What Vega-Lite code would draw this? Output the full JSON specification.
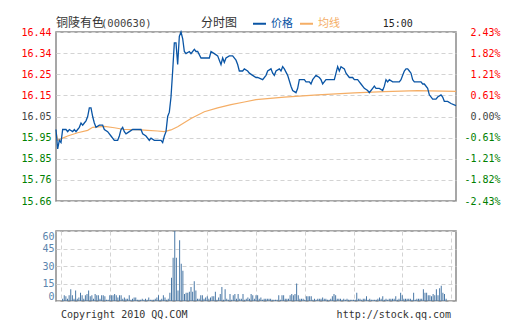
{
"$schema":"https://vega.github.io/schema/vega-lite/v6.json",
"background":"white",
"padding":{"left":20,"top":15,"right":0,"bottom":0},
"config":{
 "view":{"stroke":"#8a8a8a","strokeWidth":1.5},
 "axis":{"labelFont":"DejaVu Sans Mono","labelFontSize":10,"ticks":false,"domain":false,"gridColor":"#d3d3d3","gridDash":[4,3],"title":null,"labelOverlap":false,"labelFlush":false}
},
"datasets":{
"price":[{"t":0,"p":15.99},{"t":1,"p":15.9},{"t":2,"p":15.94},{"t":3,"p":15.93},{"t":4,"p":15.99},{"t":6,"p":15.99},{"t":7,"p":15.98},{"t":8,"p":15.99},{"t":10,"p":15.98},{"t":11,"p":15.99},{"t":12,"p":15.98},{"t":13,"p":15.99},{"t":14,"p":16.0},{"t":15,"p":16.02},{"t":16,"p":16.01},{"t":17,"p":16.02},{"t":18,"p":16.03},{"t":19,"p":16.05},{"t":20,"p":16.09},{"t":21,"p":16.09},{"t":22,"p":16.05},{"t":23,"p":16.02},{"t":24,"p":16.0},{"t":26,"p":16.01},{"t":28,"p":16.01},{"t":29,"p":15.99},{"t":31,"p":15.98},{"t":33,"p":15.96},{"t":35,"p":15.94},{"t":37,"p":15.94},{"t":38,"p":15.96},{"t":39,"p":15.99},{"t":40,"p":16.0},{"t":41,"p":15.98},{"t":42,"p":15.97},{"t":44,"p":15.98},{"t":46,"p":15.99},{"t":49,"p":15.99},{"t":51,"p":15.99},{"t":52,"p":15.97},{"t":54,"p":15.96},{"t":56,"p":15.94},{"t":57,"p":15.95},{"t":59,"p":15.94},{"t":61,"p":15.94},{"t":63,"p":15.94},{"t":64,"p":15.93},{"t":65,"p":15.96},{"t":66,"p":15.98},{"t":67,"p":16.05},{"t":68,"p":16.07},{"t":69,"p":16.14},{"t":70,"p":16.26},{"t":71,"p":16.39},{"t":72,"p":16.39},{"t":73,"p":16.29},{"t":74,"p":16.42},{"t":75,"p":16.44},{"t":76,"p":16.41},{"t":77,"p":16.35},{"t":78,"p":16.34},{"t":80,"p":16.35},{"t":81,"p":16.34},{"t":83,"p":16.36},{"t":84,"p":16.35},{"t":85,"p":16.35},{"t":87,"p":16.32},{"t":92,"p":16.32},{"t":93,"p":16.35},{"t":95,"p":16.34},{"t":97,"p":16.33},{"t":98,"p":16.31},{"t":99,"p":16.29},{"t":100,"p":16.32},{"t":101,"p":16.3},{"t":102,"p":16.32},{"t":104,"p":16.33},{"t":106,"p":16.33},{"t":108,"p":16.31},{"t":109,"p":16.29},{"t":110,"p":16.26},{"t":112,"p":16.26},{"t":113,"p":16.27},{"t":115,"p":16.26},{"t":116,"p":16.25},{"t":118,"p":16.24},{"t":120,"p":16.23},{"t":121,"p":16.23},{"t":124,"p":16.22},{"t":126,"p":16.24},{"t":127,"p":16.26},{"t":129,"p":16.27},{"t":130,"p":16.25},{"t":131,"p":16.24},{"t":132,"p":16.26},{"t":134,"p":16.27},{"t":135,"p":16.26},{"t":136,"p":16.28},{"t":137,"p":16.27},{"t":139,"p":16.24},{"t":141,"p":16.19},{"t":142,"p":16.17},{"t":144,"p":16.16},{"t":145,"p":16.18},{"t":146,"p":16.22},{"t":149,"p":16.22},{"t":150,"p":16.21},{"t":152,"p":16.21},{"t":153,"p":16.2},{"t":154,"p":16.22},{"t":156,"p":16.24},{"t":158,"p":16.23},{"t":159,"p":16.22},{"t":160,"p":16.2},{"t":162,"p":16.22},{"t":167,"p":16.22},{"t":168,"p":16.25},{"t":169,"p":16.28},{"t":170,"p":16.26},{"t":171,"p":16.28},{"t":173,"p":16.27},{"t":174,"p":16.25},{"t":176,"p":16.23},{"t":178,"p":16.23},{"t":179,"p":16.22},{"t":181,"p":16.22},{"t":182,"p":16.21},{"t":183,"p":16.2},{"t":185,"p":16.18},{"t":187,"p":16.17},{"t":188,"p":16.16},{"t":189,"p":16.17},{"t":190,"p":16.18},{"t":191,"p":16.19},{"t":192,"p":16.18},{"t":194,"p":16.18},{"t":196,"p":16.17},{"t":197,"p":16.19},{"t":198,"p":16.22},{"t":199,"p":16.21},{"t":200,"p":16.22},{"t":202,"p":16.21},{"t":206,"p":16.21},{"t":207,"p":16.22},{"t":208,"p":16.24},{"t":209,"p":16.26},{"t":210,"p":16.27},{"t":211,"p":16.27},{"t":212,"p":16.26},{"t":213,"p":16.25},{"t":214,"p":16.22},{"t":215,"p":16.21},{"t":217,"p":16.21},{"t":219,"p":16.21},{"t":220,"p":16.2},{"t":221,"p":16.2},{"t":223,"p":16.18},{"t":224,"p":16.15},{"t":226,"p":16.13},{"t":228,"p":16.13},{"t":229,"p":16.14},{"t":231,"p":16.15},{"t":232,"p":16.14},{"t":233,"p":16.12},{"t":235,"p":16.12},{"t":237,"p":16.11},{"t":240,"p":16.1}],
"avg":[{"t":0,"p":15.98},{"t":1,"p":15.94},{"t":4,"p":15.95},{"t":7,"p":15.96},{"t":13,"p":15.975},{"t":19,"p":15.986},{"t":22,"p":16.0},{"t":29,"p":16.004},{"t":35,"p":15.998},{"t":41,"p":15.99},{"t":49,"p":15.989},{"t":55,"p":15.986},{"t":61,"p":15.983},{"t":65,"p":15.98},{"t":69,"p":15.988},{"t":73,"p":16.003},{"t":81,"p":16.041},{"t":89,"p":16.072},{"t":97,"p":16.09},{"t":105,"p":16.105},{"t":113,"p":16.117},{"t":120,"p":16.128},{"t":137,"p":16.139},{"t":157,"p":16.15},{"t":179,"p":16.159},{"t":197,"p":16.165},{"t":217,"p":16.169},{"t":240,"p":16.166}],
"vol":[{"t":1,"v":2},{"t":2,"v":5},{"t":3,"v":4},{"t":4,"v":2},{"t":5,"v":5},{"t":6,"v":10},{"t":7,"v":5},{"t":8,"v":2},{"t":9,"v":9},{"t":10,"v":2},{"t":11,"v":3},{"t":12,"v":7},{"t":13,"v":5},{"t":14,"v":2},{"t":15,"v":5},{"t":16,"v":6},{"t":17,"v":9},{"t":18,"v":4},{"t":19,"v":5},{"t":20,"v":2},{"t":21,"v":6},{"t":22,"v":5},{"t":23,"v":5},{"t":24,"v":2},{"t":25,"v":5},{"t":26,"v":5},{"t":27,"v":4},{"t":28,"v":1},{"t":29,"v":1},{"t":30,"v":5},{"t":31,"v":5},{"t":32,"v":5},{"t":33,"v":6},{"t":34,"v":5},{"t":35,"v":3},{"t":36,"v":5},{"t":37,"v":5},{"t":38,"v":2},{"t":39,"v":3},{"t":40,"v":2},{"t":41,"v":2},{"t":42,"v":5},{"t":43,"v":1},{"t":44,"v":2},{"t":45,"v":3},{"t":46,"v":3},{"t":47,"v":1},{"t":48,"v":1},{"t":49,"v":1},{"t":50,"v":2},{"t":51,"v":1},{"t":52,"v":2},{"t":53,"v":1},{"t":54,"v":3},{"t":55,"v":1},{"t":56,"v":1},{"t":57,"v":1},{"t":58,"v":2},{"t":59,"v":3},{"t":60,"v":5},{"t":61,"v":1},{"t":62,"v":2},{"t":63,"v":5},{"t":64,"v":3},{"t":65,"v":1},{"t":66,"v":2},{"t":67,"v":7},{"t":68,"v":20},{"t":69,"v":37},{"t":70,"v":60},{"t":71,"v":37},{"t":72,"v":9},{"t":73,"v":52},{"t":74,"v":32},{"t":75,"v":26},{"t":76,"v":6},{"t":77,"v":7},{"t":78,"v":7},{"t":79,"v":8},{"t":80,"v":12},{"t":81,"v":8},{"t":82,"v":17},{"t":83,"v":9},{"t":84,"v":2},{"t":85,"v":2},{"t":86,"v":5},{"t":87,"v":5},{"t":88,"v":2},{"t":89,"v":3},{"t":90,"v":4},{"t":91,"v":2},{"t":92,"v":3},{"t":93,"v":4},{"t":94,"v":4},{"t":95,"v":8},{"t":96,"v":1},{"t":97,"v":3},{"t":98,"v":6},{"t":99,"v":12},{"t":100,"v":1},{"t":101,"v":10},{"t":102,"v":2},{"t":103,"v":1},{"t":104,"v":6},{"t":105,"v":1},{"t":106,"v":5},{"t":107,"v":6},{"t":108,"v":2},{"t":109,"v":6},{"t":110,"v":2},{"t":111,"v":2},{"t":112,"v":6},{"t":113,"v":1},{"t":114,"v":2},{"t":115,"v":3},{"t":116,"v":2},{"t":117,"v":6},{"t":118,"v":5},{"t":119,"v":2},{"t":120,"v":5},{"t":121,"v":5},{"t":122,"v":2},{"t":123,"v":3},{"t":124,"v":1},{"t":125,"v":2},{"t":126,"v":2},{"t":127,"v":2},{"t":128,"v":2},{"t":129,"v":2},{"t":130,"v":1},{"t":131,"v":1},{"t":132,"v":1},{"t":133,"v":1},{"t":134,"v":5},{"t":135,"v":1},{"t":136,"v":5},{"t":137,"v":5},{"t":138,"v":2},{"t":139,"v":2},{"t":140,"v":2},{"t":141,"v":5},{"t":142,"v":6},{"t":143,"v":5},{"t":144,"v":6},{"t":145,"v":15},{"t":146,"v":5},{"t":147,"v":2},{"t":148,"v":2},{"t":149,"v":2},{"t":150,"v":1},{"t":151,"v":4},{"t":152,"v":4},{"t":153,"v":4},{"t":154,"v":4},{"t":155,"v":1},{"t":156,"v":2},{"t":157,"v":1},{"t":158,"v":2},{"t":159,"v":2},{"t":160,"v":2},{"t":161,"v":3},{"t":162,"v":2},{"t":163,"v":2},{"t":164,"v":1},{"t":165,"v":1},{"t":166,"v":2},{"t":167,"v":4},{"t":168,"v":6},{"t":169,"v":5},{"t":170,"v":2},{"t":171,"v":2},{"t":172,"v":2},{"t":173,"v":1},{"t":174,"v":2},{"t":175,"v":1},{"t":176,"v":2},{"t":177,"v":1},{"t":178,"v":1},{"t":179,"v":1},{"t":180,"v":1},{"t":181,"v":1},{"t":182,"v":7},{"t":183,"v":2},{"t":184,"v":2},{"t":185,"v":1},{"t":186,"v":2},{"t":187,"v":2},{"t":188,"v":4},{"t":189,"v":1},{"t":190,"v":2},{"t":191,"v":1},{"t":192,"v":1},{"t":193,"v":1},{"t":194,"v":1},{"t":195,"v":2},{"t":196,"v":3},{"t":197,"v":2},{"t":198,"v":4},{"t":199,"v":1},{"t":200,"v":2},{"t":201,"v":1},{"t":202,"v":2},{"t":203,"v":2},{"t":204,"v":2},{"t":205,"v":2},{"t":206,"v":4},{"t":207,"v":1},{"t":208,"v":2},{"t":209,"v":7},{"t":210,"v":5},{"t":211,"v":2},{"t":212,"v":2},{"t":213,"v":2},{"t":214,"v":2},{"t":215,"v":2},{"t":216,"v":1},{"t":217,"v":7},{"t":218,"v":1},{"t":219,"v":2},{"t":220,"v":2},{"t":221,"v":2},{"t":222,"v":2},{"t":223,"v":10},{"t":224,"v":7},{"t":225,"v":7},{"t":226,"v":5},{"t":227,"v":5},{"t":228,"v":4},{"t":229,"v":6},{"t":230,"v":5},{"t":231,"v":10},{"t":232,"v":5},{"t":233,"v":11},{"t":234,"v":13},{"t":235,"v":7},{"t":236,"v":6},{"t":237,"v":2}]
},
"bounds":"flush",
"spacing":30,
"vconcat":[
{
 "width":400,"height":169,
 "resolve":{"axis":{"y":"independent"}},
 "layer":[
  {"data":{"name":"avg"},"mark":{"type":"line","strokeWidth":1.2},
   "encoding":{
    "x":{"field":"t","type":"quantitative","scale":{"domain":[0,240],"nice":false},
      "axis":{"values":[0,30,60,90,120,150,180,210,240],"grid":true,"labelPadding":13,"labelColor":"#000000",
        "labelExpr":"datum.value==0?'09:30':datum.value==60?'10:30':datum.value==120?'11:30/13:00':datum.value==180?'14:00':datum.value==240?'15:00':''",
        "labelOffset":{"expr":"(datum.value==60||datum.value>=180)?5:0"}}},
    "y":{"field":"p","type":"quantitative","scale":{"domain":[15.66,16.44],"nice":false,"zero":false},
      "axis":{"orient":"left","values":[15.66,15.7575,15.855,15.9525,16.05,16.1475,16.245,16.3425,16.44],"grid":true,"labelPadding":5,
        "labelExpr":"['15.66','15.76','15.85','15.95','16.05','16.15','16.25','16.34','16.44'][round((datum.value-15.66)/0.0975)]",
        "labelColor":{"expr":"datum.value>16.06?'#ff0000':(datum.value<16.04?'#008000':'#444444')"}}},
    "color":{"datum":"均线","type":"nominal","scale":{"domain":["价格","均线"],"range":["#0a55a5","#f5ae66"]},
      "legend":{"orient":"none","legendX":196,"legendY":-16,"direction":"horizontal","title":null,"symbolType":"stroke","symbolSize":169,"symbolStrokeWidth":2,
        "labelFont":"Noto Sans CJK SC","labelFontSize":11,"labelOffset":4,"columnPadding":3,"padding":0,
        "labelColor":{"expr":"datum.value=='价格'?'#0a55a5':'#f5ae66'"}}}
   }},
  {"data":{"name":"price"},"mark":{"type":"line","strokeWidth":1.3},
   "encoding":{
    "x":{"field":"t","type":"quantitative"},
    "y":{"field":"p","type":"quantitative",
      "axis":{"orient":"right","values":[15.66,15.7575,15.855,15.9525,16.05,16.1475,16.245,16.3425,16.44],"grid":false,"labelPadding":44,"labelAlign":"right",
        "labelExpr":"['-2.43%','-1.82%','-1.21%','-0.61%','0.00%','0.61%','1.21%','1.82%','2.43%'][round((datum.value-15.66)/0.0975)]",
        "labelColor":{"expr":"datum.value>16.06?'#ff0000':(datum.value<16.04?'#008000':'#444444')"}}},
    "color":{"datum":"价格","type":"nominal"}
   }},
  {"data":{"values":[{}]},"mark":{"type":"text","font":"Noto Sans CJK SC","fontSize":12,"align":"left","baseline":"alphabetic","color":"#333333"},
   "encoding":{"x":{"datum":0,"type":"quantitative","axis":null},"y":{"datum":16.465,"type":"quantitative","axis":null},"text":{"value":"铜陵有色"}}},
  {"data":{"values":[{}]},"mark":{"type":"text","font":"DejaVu Sans Mono","fontSize":10.5,"align":"left","baseline":"alphabetic","color":"#444444"},
   "encoding":{"x":{"datum":27,"type":"quantitative","axis":null},"y":{"datum":16.465,"type":"quantitative","axis":null},"text":{"value":"(000630)"}}},
  {"data":{"values":[{}]},"mark":{"type":"text","font":"Noto Sans CJK SC","fontSize":12,"align":"left","baseline":"alphabetic","color":"#333333"},
   "encoding":{"x":{"datum":87,"type":"quantitative","axis":null},"y":{"datum":16.465,"type":"quantitative","axis":null},"text":{"value":"分时图"}}},
  {"data":{"values":[{}]},"mark":{"type":"text","font":"DejaVu Sans Mono","fontSize":10,"align":"left","baseline":"alphabetic","color":"#222222"},
   "encoding":{"x":{"datum":196,"type":"quantitative","axis":null},"y":{"datum":16.465,"type":"quantitative","axis":null},"text":{"value":"15:00"}}}
 ]
},
{
 "width":400,"height":70,
 "resolve":{"axis":{"y":"independent","x":"independent"}},
 "layer":[
  {"data":{"name":"vol"},"mark":{"type":"bar","width":1,"color":"#4a78a6"},
   "encoding":{
    "x":{"field":"t","type":"quantitative","scale":{"domain":[0,240],"nice":false},"axis":{"values":[0,30,60,90,120,150,180,210,240],"grid":true,"labels":false}},
    "y":{"field":"v","type":"quantitative","scale":{"domain":[0,60],"nice":false},"axis":{"values":[0,15,30,45,60],"grid":true,"labelFlush":true,"labelPadding":2,"labelColor":"#5b85ad"}}
   }},
  {"data":{"values":[{}]},"mark":{"type":"text","font":"DejaVu Sans Mono","fontSize":10,"align":"left","baseline":"alphabetic","color":"#333333"},
   "encoding":{"x":{"datum":0,"type":"quantitative","axis":null},"y":{"datum":-14.6,"type":"quantitative","axis":null},"text":{"value":"Copyright 2010 QQ.COM"}}},
  {"data":{"values":[{}]},"mark":{"type":"text","font":"DejaVu Sans Mono","fontSize":10,"align":"right","baseline":"alphabetic","color":"#333333"},
   "encoding":{"x":{"datum":240,"type":"quantitative","axis":null},"y":{"datum":-14.6,"type":"quantitative","axis":null},"text":{"value":"http://stock.qq.com"}}}
 ]
}
]
}
